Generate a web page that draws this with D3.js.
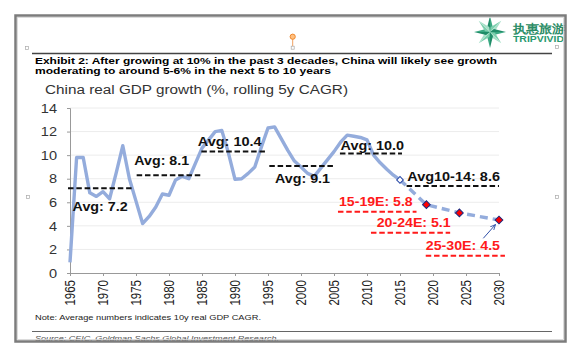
<!DOCTYPE html>
<html><head><meta charset="utf-8">
<script src="https://cdn.jsdelivr.net/npm/d3@7"></script>
<style>html,body{margin:0;padding:0;background:#fff;}svg{display:block;}</style>
</head><body>
<script>
// ---------- data ----------
const startYear = 1965;
const gdpValues = [0.9, 9.8, 9.8, 6.8, 6.5, 6.9, 6.3, 8.5, 10.8, 8.0,
  6.1, 4.2, 4.8, 5.6, 6.7, 6.6, 7.9, 8.2, 8.0, 9.3,
  10.6, 11.3, 12.0, 12.1, 10.2, 7.95, 8.0, 8.45, 9.0, 10.7,
  12.3, 12.4, 11.4, 10.4, 9.5, 9.0, 8.45, 8.2, 8.9, 9.6,
  10.3, 11.1, 11.7, 11.6, 11.5, 11.3, 10.0, 9.35, 8.8, 8.3, 7.9];
const fcYears = [2015, 2019, 2024, 2030];
const fcValues = [7.9, 5.8, 5.1, 4.5];
const xTicks = [1965,1970,1975,1980,1985,1990,1995,2000,2005,2010,2015,2020,2025,2030];
const yTicks = [0,2,4,6,8,10,12,14];
const avgLabels = ["Avg: 7.2","Avg: 8.1","Avg: 10.4","Avg: 9.1","Avg: 10.0","Avg10-14: 8.6","15-19E: 5.8","20-24E: 5.1","25-30E: 4.5"];
const avgLevels = [7.2, 8.3, 10.3, 9.07, 10.15, 7.38, 5.2, 3.42, 1.47];
const avgFrom = [1964.7, 1975.1, 1984.9, 1995.2, 2005.9, 2016.0, 2005.6, 2010.6, 2018.9];
const avgTo   = [1974.6, 1984.8, 1994.8, 2004.9, 2015.3, 2030.0, 2017.5, 2022.6, 2030.9];
const avgForecast = [false,false,false,false,false,false,true,true,true];
// label anchors (layout, in data units) and widths
const avgLabelPos = [[1965.4,5.28],[1974.75,9.16],[1984.35,10.8],[1996.06,7.61],[2006.0,10.46],[2016.1,7.8],[2005.76,5.68],[2011.47,3.88],[2018.9,1.95]];
const avgLabelW = [55, 54.7, 64, 55, 63.5, 92.7, 73.7, 74, 74.3];

const W = 582, H = 357;
const svg = d3.select("body").append("svg").attr("width", W).attr("height", H);
const x = d3.scaleLinear().domain([1965, 2030]).range([70, 499]);
const y = d3.scaleLinear().domain([0, 14]).range([273, 108]);
const FONT = "'Liberation Sans', Arial, Helvetica, sans-serif";

function text(s, px, py, opt) {
  const t = svg.append("text").attr("x", px).attr("y", py).text(s)
    .attr("font-family", FONT).attr("font-size", opt.size || 12)
    .attr("fill", opt.fill || "#000");
  if (opt.weight) t.attr("font-weight", opt.weight);
  if (opt.style) t.attr("font-style", opt.style);
  if (opt.len) t.attr("textLength", opt.len).attr("lengthAdjust", "spacingAndGlyphs");
  if (opt.anchor) t.attr("text-anchor", opt.anchor);
  return t;
}

// ---------- header ----------
svg.append("line").attr("x1", 32).attr("x2", 552).attr("y1", 53.5).attr("y2", 53.5)
  .attr("stroke", "#444").attr("stroke-width", 1.3);
text("Exhibit 2: After growing at 10% in the past 3 decades, China will likely see growth", 35, 64, {size: 9.2, weight: "bold", len: 462});
text("moderating to around 5-6% in the next 5 to 10 years", 35, 74, {size: 9.2, weight: "bold", len: 296});
text("China real GDP growth (%, rolling 5y CAGR)", 45, 94, {size: 12, fill: "#333", len: 303});

// handles
[[27,48],[557,47],[28,197],[557,197]].forEach(p => {
  svg.append("rect").attr("x", p[0]-1.5).attr("y", p[1]-1.5).attr("width", 3).attr("height", 3)
    .attr("fill", "#fff").attr("stroke", "#aaa").attr("stroke-width", 0.7);
});
svg.append("line").attr("x1", 292.7).attr("x2", 292.7).attr("y1", 37).attr("y2", 46)
  .attr("stroke", "#f0a060").attr("stroke-width", 1);
svg.append("rect").attr("x", 291.2).attr("y", 46.2).attr("width", 3).attr("height", 3)
  .attr("fill", "#fff").attr("stroke", "#aaa").attr("stroke-width", 0.7);
svg.append("circle").attr("cx", 292.7).attr("cy", 36.7).attr("r", 2.6)
  .attr("fill", "#ffc080").attr("stroke", "#f08a30").attr("stroke-width", 1);

// logo
const lc = [490, 32];
for (let i = 0; i < 8; i++) {
  const a = i * Math.PI / 4 - Math.PI / 2;
  const r = 16, w = 0.32;
  const tip = [lc[0] + r * Math.cos(a), lc[1] + r * Math.sin(a)];
  const b1 = [lc[0] + 5 * Math.cos(a - w*2), lc[1] + 5 * Math.sin(a - w*2)];
  svg.append("polygon").attr("points", [lc, b1, tip].map(p => p.join(",")).join(" "))
    .attr("fill", i % 2 ? "#7dcfae" : "#1f8c68");
  const b2 = [lc[0] + 5 * Math.cos(a + w*2), lc[1] + 5 * Math.sin(a + w*2)];
  svg.append("polygon").attr("points", [lc, b2, tip].map(p => p.join(",")).join(" "))
    .attr("fill", i % 2 ? "#a6e0c8" : "#3aa882");
}
text("执惠旅游", 513, 33, {size: 11.5, weight: "bold", fill: "#2a8c66", len: 52});
text("TRIPVIVID", 513, 41.5, {size: 8.5, weight: "bold", fill: "#2a9a70", len: 51});

// ---------- grid & axes ----------
svg.append("g").selectAll("line").data(yTicks.filter(d => d > 0)).join("line")
  .attr("x1", x(1965)).attr("x2", x(2030)).attr("y1", d => y(d)).attr("y2", d => y(d))
  .attr("stroke", "#ececec").attr("stroke-width", 1);

const yAxis = svg.append("g").attr("transform", `translate(${x(1965)},0)`)
  .call(d3.axisLeft(y).tickValues(yTicks).tickSize(3).tickPadding(10));
yAxis.select(".domain").attr("stroke", "#999");
yAxis.selectAll(".tick line").attr("stroke", "#999");
yAxis.selectAll(".tick text").attr("font-family", FONT).attr("font-size", 13).attr("fill", "#333")
  .attr("x", 0).attr("dy", null).attr("dominant-baseline", "central")
  .attr("transform", "translate(-13,0) scale(1.12,1)");

const xAxis = svg.append("g").attr("transform", `translate(0,${y(0)})`)
  .call(d3.axisBottom(x).tickValues(xTicks).tickFormat(d3.format("d")).tickSize(3));
xAxis.select(".domain").attr("stroke", "#999");
xAxis.selectAll(".tick line").attr("stroke", "#999");
xAxis.selectAll(".tick text").attr("font-family", FONT).attr("font-size", 11.5).attr("fill", "#222")
  .attr("x", 0).attr("y", 0).attr("dy", null)
  .attr("text-anchor", "end").attr("dominant-baseline", "central")
  .attr("transform", "translate(0,7) scale(1.2,1) rotate(-90)");

// ---------- series ----------
const hist = gdpValues.map((v, i) => [startYear + i, v]);
const lineGen = d3.line().x(d => x(d[0])).y(d => y(d[1]));
svg.append("path").datum(hist).attr("d", lineGen)
  .attr("fill", "none").attr("stroke", "#94acdc").attr("stroke-width", 3.4)
  .attr("stroke-linejoin", "round");
const fc = fcYears.map((yr, i) => [yr, fcValues[i]]);
svg.append("path").datum(fc).attr("d", lineGen)
  .attr("fill", "none").attr("stroke", "#94acdc").attr("stroke-width", 3.4)
  .attr("stroke-dasharray", "8,5");

// diamonds
svg.append("path").attr("d", d3.symbol().type(d3.symbolSquare).size(22)())
  .attr("transform", `translate(${x(fcYears[0])},${y(fcValues[0])}) rotate(45)`)
  .attr("fill", "#fff").attr("stroke", "#2a4aa8").attr("stroke-width", 1);
svg.append("g").selectAll("path").data(fc.slice(1)).join("path")
  .attr("d", d3.symbol().type(d3.symbolSquare).size(30)())
  .attr("transform", d => `translate(${x(d[0])},${y(d[1])}) rotate(45)`)
  .attr("fill", "#ff0000").attr("stroke", "#1b2a80").attr("stroke-width", 1);

// ---------- average annotations ----------
avgLabels.forEach((lab, i) => {
  const col = avgForecast[i] ? "#ff1a1a" : "#111";
  svg.append("line").attr("x1", x(avgFrom[i])).attr("x2", x(avgTo[i]))
    .attr("y1", y(avgLevels[i])).attr("y2", y(avgLevels[i]))
    .attr("stroke", col).attr("stroke-width", 2).attr("stroke-dasharray", "5.5,2.8");
  text(lab, x(avgLabelPos[i][0]), y(avgLabelPos[i][1]),
    {size: 12, weight: "bold", fill: col, len: avgLabelW[i]});
});

// arrow
svg.append("defs").append("marker").attr("id", "ah").attr("viewBox", "0 0 10 10")
  .attr("refX", 9).attr("refY", 5).attr("markerWidth", 6).attr("markerHeight", 6)
  .attr("orient", "auto").append("path").attr("d", "M0,1 L9,5 L0,9")
  .attr("fill", "none").attr("stroke", "#3050a8").attr("stroke-width", 1.4);
svg.append("line").attr("x1", 483.3).attr("y1", 238.3).attr("x2", 495.5).attr("y2", 224.5)
  .attr("stroke", "#3050a8").attr("stroke-width", 1).attr("marker-end", "url(#ah)");

// ---------- footer ----------
text("Note: Average numbers indicates 10y real GDP CAGR.", 35, 320, {size: 7.2, fill: "#222", len: 226});
svg.append("line").attr("x1", 32).attr("x2", 552).attr("y1", 331.5).attr("y2", 331.5)
  .attr("stroke", "#666").attr("stroke-width", 1.2);
text("Source: CEIC, Goldman Sachs Global Investment Research.", 35, 340.5, {size: 7.4, style: "italic", fill: "#555", len: 244});

// ---------- frame ----------
svg.append("rect").attr("x", 0).attr("y", 342.5).attr("width", W).attr("height", 16).attr("fill", "#fff");
svg.append("rect").attr("x", 15.5).attr("y", 15.5).attr("width", 550).attr("height", 326)
  .attr("fill", "none").attr("stroke", "#7c7c7c").attr("stroke-width", 2.5);
svg.append("rect").attr("x", 17.5).attr("y", 17.5).attr("width", 546).attr("height", 322)
  .attr("fill", "none").attr("stroke", "#d4d4d4").attr("stroke-width", 0.8);
</script>
</body></html>
